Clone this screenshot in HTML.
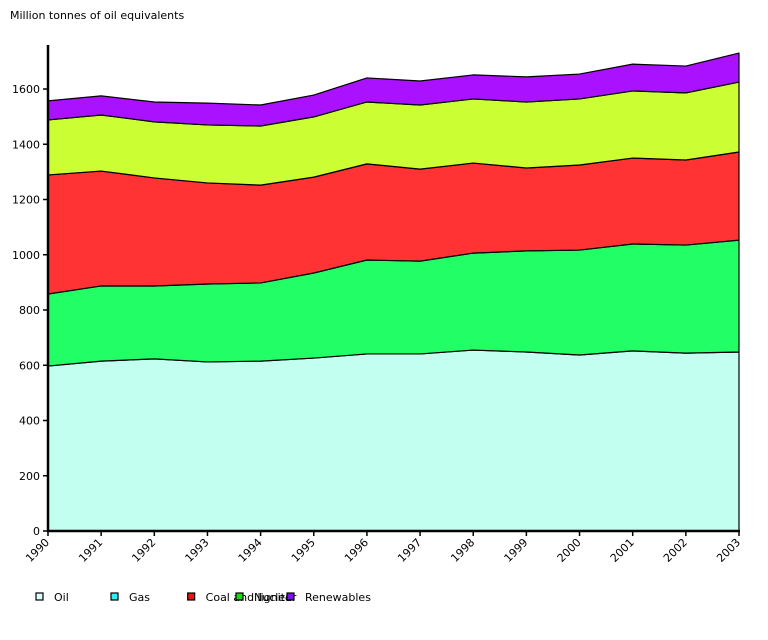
<!DOCTYPE html>
<html><head><meta charset="utf-8"><style>
body{margin:0;background:#fff;font-family:"Liberation Sans","DejaVu Sans",sans-serif;}
svg text{font-family:"DejaVu Sans","Liberation Sans",sans-serif;font-size:11px;fill:#000;}
</style></head><body>
<svg id="chart" width="768" height="635">
<text x="10" y="19">Million tonnes of oil equivalents</text>
<g id="areas"></g>
<g id="axes"></g>
<g id="legend"></g>
</svg>
<script>
const years=[1990,1991,1992,1993,1994,1995,1996,1997,1998,1999,2000,2001,2002,2003];
const oil=[597,615,623,612,615,626,641,641,655,648,637,652,644,648];
const gas=[261,272,264,282,283,308,340,336,351,366,380,387,391,405];
const coal=[431,416,391,366,354,347,348,333,326,300,308,311,308,319];
const nuclear=[199,203,203,210,214,218,224,232,232,239,239,243,243,253];
const renewables=[69,69,72,79,76,79,87,87,87,91,90,97,97,105];
const yTicks=[0,200,400,600,800,1000,1200,1400,1600];
const seriesNames=["Oil","Gas","Coal and lignite","Nuclear","Renewables"];
const series=[oil,gas,coal,nuclear,renewables];
const fills=["#c2fff0","#22ff66","#ff3333","#ccff33","#aa11ff"];
const legendSw=["#ddffff","#33eeee","#ee1111","#11dd11","#7711ee"];
const legendX=[48,273,503,648,801];

const NS="http://www.w3.org/2000/svg";
const X0=48,X1=739,Y0=531,PX=442/1600;
const xs=i=>X0+(X1-X0)*i/(years.length-1);
const ys=v=>Y0-v*PX;
function mk(t,a,p){const e=document.createElementNS(NS,t);for(const k in a)e.setAttribute(k,a[k]);p.appendChild(e);return e;}
const areas=document.getElementById('areas'),axes=document.getElementById('axes'),leg=document.getElementById('legend');
let base=years.map(()=>0);
series.forEach((s,si)=>{
  const top=base.map((b,i)=>b+s[i]);
  let d="M"+years.map((y,i)=>xs(i)+","+ys(top[i])).join(" L");
  for(let i=years.length-1;i>=0;i--)d+=" L"+xs(i)+","+ys(base[i]);
  d+=" Z";
  const p=mk('path',{d:d,fill:fills[si],stroke:"#000","stroke-width":"1.2","stroke-linejoin":"round"},areas);
  
  
  base=top;
});
const ya=mk('line',{x1:X0,y1:45,x2:X0,y2:Y0,stroke:"#000","stroke-width":"2.5"},axes);


const xa=mk('line',{x1:X0-1,y1:Y0,x2:X1+1,y2:Y0,stroke:"#000","stroke-width":"2.5"},axes);


yTicks.forEach(v=>{
  mk('line',{x1:X0-5,y1:ys(v),x2:X0,y2:ys(v),stroke:"#000","stroke-width":"1.5"},axes);
  const t=mk('text',{x:X0-8,y:ys(v)+4,"text-anchor":"end"},axes);t.textContent=v;
  
  
});
years.forEach((y,i)=>{
  mk('line',{x1:xs(i),y1:Y0,x2:xs(i),y2:Y0+5,stroke:"#000","stroke-width":"1.5"},axes);
  const t=mk('text',{x:xs(i)+2,y:Y0+12,"text-anchor":"end",transform:`rotate(-45 ${xs(i)+2} ${Y0+12})`},axes);
  t.textContent=y;
  
  
});
seriesNames.forEach((n,i)=>{
  const g=mk('g',{},leg);
  
  
  const lx=30+(legendX[i]-30)/3;
  mk('rect',{x:lx,y:593,width:7,height:7,fill:legendSw[i],stroke:"#000","stroke-width":"1.2"},g);
  const t=mk('text',{x:lx+18,y:601},g);t.textContent=n;
});
</script>
</body></html>
